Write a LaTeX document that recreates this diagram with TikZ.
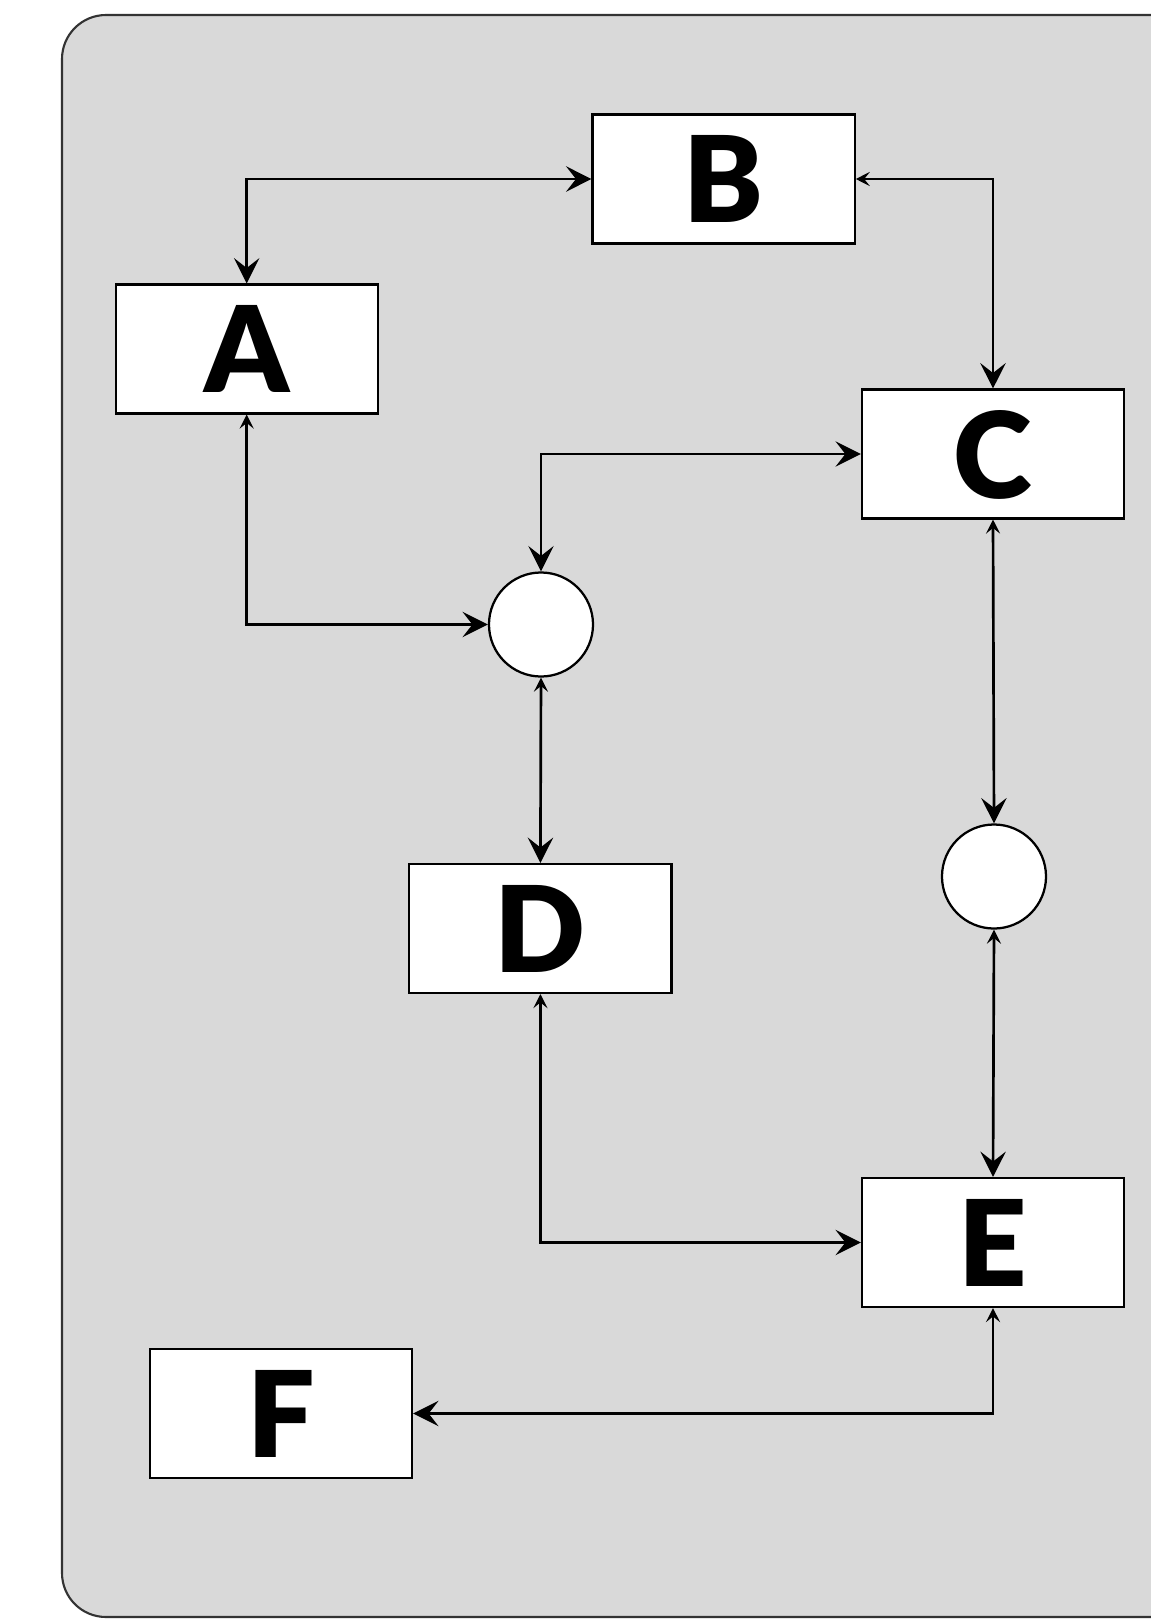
\documentclass[tikz,border=0pt]{standalone}
\usepackage{fontspec}
\setmainfont{Lato}[BoldFont={* Black}]
\usepackage{xcolor}
\usetikzlibrary{arrows.meta}

\definecolor{panelgray}{HTML}{D9D9D9}
\definecolor{panelline}{HTML}{333333}

\tikzset{
  tipbig/.tip={Stealth[length=18pt, width=18pt, inset=7pt]},
  tipsmall/.tip={Stealth[length=10pt, width=10pt, inset=4pt]},
  box/.style={draw, fill=white, line width=1.6pt, minimum width=6.55cm,
    minimum height=3.22cm, inner sep=0pt, text depth=0pt,
    font=\fontsize{85pt}{85pt}\selectfont\bfseries},
  dot/.style={draw, fill=white, circle, line width=1.6pt, minimum size=2.6cm, inner sep=0pt},
  link/.style={line width=1.9pt}
}

\begin{document}
\begin{tikzpicture}[x=0.025cm, y=-0.025cm]
    % ── Page and panel ──────────────────────────────────────────────────────
    \useasboundingbox (0,0) rectangle (1151,1619);
    \clip (0,0) rectangle (1151,1619);
    \draw[fill=panelgray, draw=panelline, line width=1.5pt, rounded corners=1.1cm]
      (62,15) rectangle (1230,1617);
    % ── Boxes ───────────────────────────────────────────────────────────────
    \node[box] (A) at (246.7, 349) {A};
    \node[box] (B) at (723.6, 179) {B};
    \node[box] (C) at (993, 454) {C};
    \node[box] (D) at (540.4, 928.5) {D};
    \node[box] (E) at (993, 1242.5) {E};
    \node[box] (F) at (281, 1413.5) {F};
    % Junction circles
    \node[dot] (j1) at (541, 624.5) {};
    \node[dot] (j2) at (994, 876.5) {};
    % ── Connectors ──────────────────────────────────────────────────────────
    \draw[link, tipbig-tipbig] (A.north) |- (B.west);
    \draw[link, tipsmall-tipbig] (B.east) -| (C.north);
    \draw[link, tipbig-tipbig] (C.west) -| (j1.north);
    \draw[link, tipsmall-tipbig] (A.south) |- (j1.west);
    \draw[link, tipsmall-tipbig] (j1.south) -- (D.north);
    \draw[link, tipsmall-tipbig] (C.south) -- (j2.north);
    \draw[link, tipsmall-tipbig] (j2.south) -- (E.north);
    \draw[link, tipsmall-tipbig] (D.south) |- (E.west);
    \draw[link, tipsmall-tipbig] (E.south) |- (F.east);
\end{tikzpicture}
\end{document}
